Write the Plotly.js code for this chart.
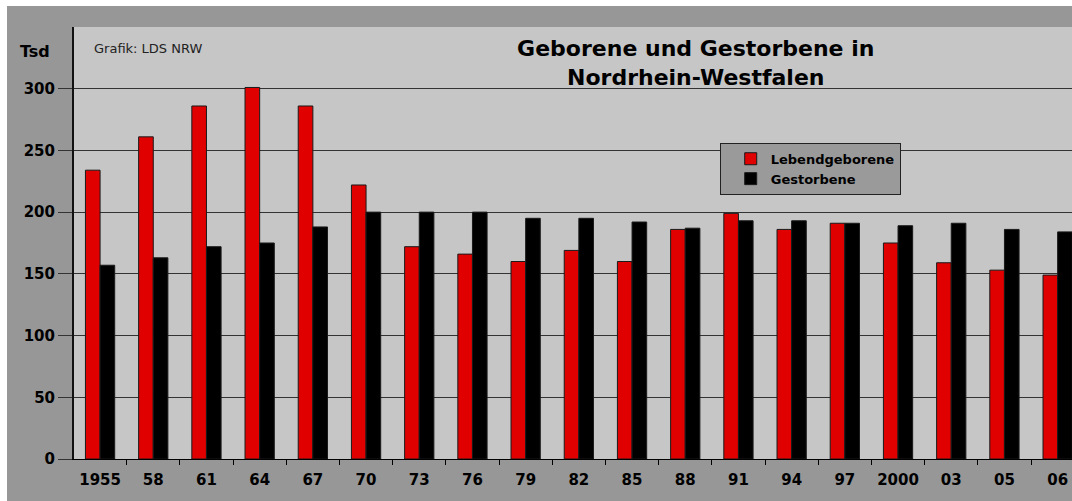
<!DOCTYPE html>
<html>
<head>
<meta charset="utf-8">
<script src="https://cdn.plot.ly/plotly-3.0.1.min.js"></script>
<style>
  html, body { margin: 0; padding: 0; background: #ffffff; }
  #chart { position: absolute; left: 7px; top: 6px; width: 1065px; height: 495px; }
</style>
</head>
<body>
<div id="chart"></div>
<script>
  // Geborene und Gestorbene in NRW, in Tsd
  const years = ["1955", "58", "61", "64", "67", "70", "73", "76", "79", "82",
                 "85", "88", "91", "94", "97", "2000", "03", "05", "06"];
  const geborene = [234, 261, 286, 301, 286, 222, 172, 166, 160, 169,
                    160, 186, 199, 186, 191, 175, 159, 153, 149];
  const gestorbene = [157, 163, 172, 175, 188, 200, 200, 200, 195, 195,
                      192, 187, 193, 193, 191, 189, 191, 186, 184];
  const yTicks = [0, 50, 100, 150, 200, 250, 300];

  const bold = { family: "DejaVu Sans", weight: "bold", color: "#000" };

  const traces = [
    {
      type: "bar",
      name: "Lebendgeborene",
      x: years,
      y: geborene,
      marker: { color: "#e00000", line: { color: "#1a1a1a", width: 1 } },
      hoverinfo: "skip"
    },
    {
      type: "bar",
      name: "Gestorbene",
      x: years,
      y: gestorbene,
      marker: { color: "#000000", line: { color: "#1a1a1a", width: 1 } },
      hoverinfo: "skip"
    }
  ];

  const layout = {
    width: 1065,
    height: 495,
    margin: { l: 67, r: 0, t: 21, b: 42 },
    paper_bgcolor: "#979797",
    plot_bgcolor: "#c6c6c6",
    barmode: "group",
    bargap: 0.45,
    bargroupgap: 0,
    showlegend: true,
    title: {
      text: "Geborene und Gestorbene in<br>Nordrhein-Westfalen",
      xref: "paper",
      x: 0.623,
      xanchor: "center",
      yref: "container",
      y: 0.899,
      yanchor: "middle",
      font: { ...bold, size: 22 }
    },
    legend: {
      x: 0.647,
      xanchor: "left",
      y: 0.732,
      yanchor: "top",
      bgcolor: "#9a9a9a",
      bordercolor: "#222",
      borderwidth: 1,
      indentation: 10,
      font: { ...bold, size: 13 },
      tracegroupgap: 0
    },
    xaxis: {
      type: "category",
      range: [-0.49, 18.27],
      showgrid: false,
      showline: true,
      linecolor: "#000",
      linewidth: 1,
      ticks: "outside",
      tickson: "boundaries",
      ticklen: 5,
      tickcolor: "#000",
      ticklabelstandoff: 7,
      tickfont: { ...bold, size: 15 },
      fixedrange: true
    },
    yaxis: {
      range: [0, 350],
      tickvals: yTicks,
      ticktext: yTicks.map(String),
      showgrid: true,
      gridcolor: "#333",
      gridwidth: 1,
      zeroline: false,
      showline: true,
      linecolor: "#111",
      linewidth: 2,
      ticks: "outside",
      ticklen: 14,
      tickcolor: "#333",
      tickfont: { ...bold, size: 15 },
      fixedrange: true
    },
    annotations: [
      {
        text: "Tsd",
        xref: "paper", yref: "paper",
        x: -0.039, y: 0.943,
        xanchor: "center", yanchor: "middle",
        showarrow: false,
        font: { ...bold, size: 16 }
      },
      {
        text: "Grafik: LDS NRW",
        xref: "paper", yref: "paper",
        x: 0.018, y: 0.951,
        xanchor: "left", yanchor: "middle",
        showarrow: false,
        font: { family: "DejaVu Sans", size: 13, color: "#222" }
      }
    ]
  };

  Plotly.newPlot("chart", traces, layout, { displayModeBar: false, staticPlot: true });
</script>
</body>
</html>
